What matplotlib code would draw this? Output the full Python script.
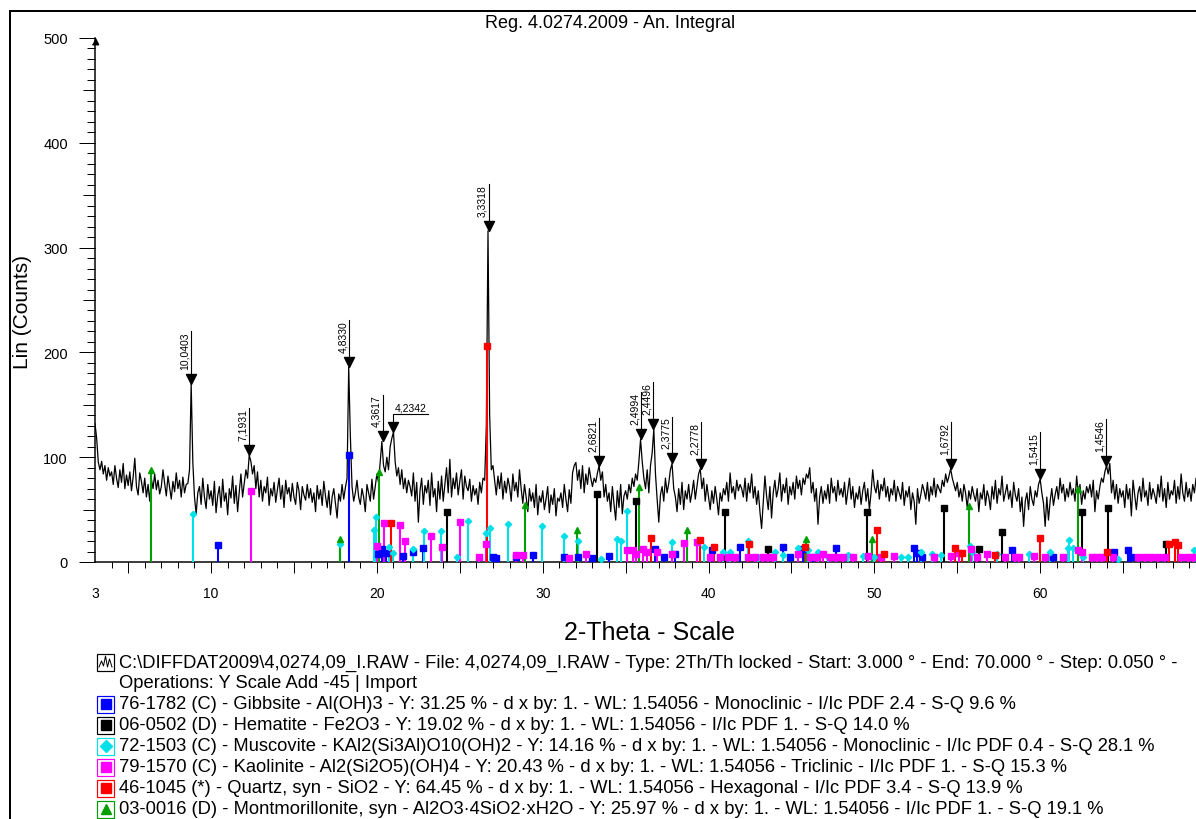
import numpy as np
import matplotlib
matplotlib.use("Agg")
import matplotlib.pyplot as plt
from matplotlib.ticker import MultipleLocator, FixedLocator, NullFormatter
from matplotlib.patches import Rectangle
from matplotlib.lines import Line2D
from matplotlib.transforms import Affine2D

plt.rcParams['font.family'] = ['Liberation Sans', 'DejaVu Sans']

# ---------------------------------------------------------------- data
scan_start, scan_end = 3.0, 70.0
wavelength = 1.54056

# measured intensity (Lin counts), one row per degree 2-theta, 0.1 deg apart
counts = [
    132, 118, 95, 88, 96, 84, 92, 78, 90, 82,      # 3
    86, 74, 92, 80, 71, 88, 76, 94, 70, 83,        # 4
    73, 86, 68, 81, 99, 72, 64, 85, 77, 66,        # 5
    80, 62, 74, 58, 79, 70, 84, 69, 78, 65,        # 6
    72, 88, 75, 63, 82, 71, 60, 77, 67, 85,        # 7
    70, 78, 62, 81, 66, 74, 75, 88, 170, 95,       # 8
    62, 46, 66, 72, 55, 80, 62, 51, 74, 60,        # 9
    68, 54, 77, 47, 63, 72, 52, 79, 58, 66,        # 10
    45, 70, 61, 82, 56, 73, 48, 67, 84, 62,        # 11
    75, 88, 80, 102, 96, 84, 92, 70, 86, 62,       # 12
    78, 58, 72, 66, 81, 54, 70, 63, 76, 57,        # 13
    69, 80, 60, 73, 52, 78, 65, 71, 58, 75,        # 14
    62, 55, 76, 68, 50, 72, 64, 59, 74, 61,        # 15
    70, 57, 66, 48, 73, 60, 69, 54, 77, 63,        # 16
    52, 68, 45, 62, 70, 56, 42, 65, 58, 74,        # 17
    60, 71, 80, 186, 120, 72, 58, 66, 78, 62,      # 18
    55, 70, 62, 48, 74, 66, 58, 79, 60, 72,        # 19
    84, 76, 96, 115, 92, 86, 100, 88, 110, 118,    # 20
    124, 96, 82, 90, 74, 88, 70, 80, 66, 78,       # 21
    72, 63, 85, 58, 76, 38, 68, 80, 55, 73,        # 22
    66, 78, 54, 85, 62, 70, 48, 77, 60, 82,        # 23
    58, 74, 90, 66, 98, 62, 80, 70, 85, 64,        # 24
    77, 88, 60, 82, 72, 68, 79, 58, 73, 64,        # 25
    70, 55, 76, 66, 80, 78, 130, 316, 140, 88,     # 26
    92, 78, 64, 82, 70, 85, 60, 77, 66, 80,        # 27
    72, 58, 84, 68, 76, 62, 88, 70, 56, 74,        # 28
    62, 48, 70, 58, 66, 52, 74, 45, 63, 57,        # 29
    68, 50, 60, 72, 47, 64, 55, 70, 44, 61,        # 30
    58, 66, 52, 74, 60, 48, 69, 56, 85, 92,        # 31
    95, 78, 88, 70, 92, 66, 84, 74, 90, 80,        # 32
    72, 80, 76, 85, 92, 78, 86, 62, 74, 58,        # 33
    66, 48, 72, 55, 40, 68, 52, 74, 46, 63,        # 34
    68, 60, 74, 66, 80, 72, 84, 78, 96, 117,       # 35
    96, 80, 70, 88, 66, 92, 104, 127, 84, 60,      # 36
    38, 64, 72, 58, 80, 66, 75, 88, 94, 70,        # 37
    62, 48, 70, 55, 76, 50, 68, 60, 74, 57,        # 38
    66, 78, 60, 72, 84, 89, 70, 80, 58, 74,        # 39
    62, 50, 68, 56, 72, 60, 45, 66, 58, 70,        # 40
    64, 76, 58, 85, 66, 72, 60, 78, 68, 74,        # 41
    70, 62, 80, 58, 75, 66, 84, 61, 72, 55,        # 42
    68, 48, 32, 57, 82, 63, 50, 72, 42, 66,        # 43
    78, 62, 70, 85, 58, 74, 66, 80, 55, 72,        # 44
    64, 76, 60, 82, 70, 78, 64, 80, 74, 84,        # 45
    80, 90, 66, 76, 58, 70, 36, 62, 72, 56,        # 46
    68, 60, 74, 56, 80, 66, 72, 58, 78, 64,        # 47
    70, 62, 76, 55, 68, 80, 60, 72, 52, 66,        # 48
    60, 72, 55, 68, 76, 58, 70, 50, 66, 88,        # 49
    72, 66, 78, 60, 74, 68, 80, 62, 72, 58,        # 50
    70, 64, 78, 58, 72, 66, 60, 76, 54, 68,        # 51
    62, 72, 50, 66, 58, 36, 70, 56, 64, 74,        # 52
    68, 60, 76, 58, 72, 64, 80, 62, 74, 70,        # 53
    66, 78, 72, 84, 76, 82, 89, 80, 74, 68,        # 54
    76, 62, 70, 58, 74, 66, 52, 68, 60, 72,        # 55
    64, 58, 70, 48, 66, 60, 74, 54, 68, 62,        # 56
    50, 72, 60, 78, 56, 70, 64, 82, 58, 66,        # 57
    74, 60, 68, 52, 76, 64, 58, 70, 48, 62,        # 58
    34, 58, 66, 50, 72, 60, 54, 68, 62, 74,        # 59
    79, 66, 56, 34, 62, 40, 58, 70, 54, 64,        # 60
    72, 60, 80, 66, 74, 58, 70, 62, 76, 64,        # 61
    70, 58, 82, 64, 74, 55, 68, 60, 72, 66,        # 62
    74, 62, 78, 48, 68, 60, 72, 80, 76, 86,        # 63
    92, 84, 94, 66, 78, 60, 74, 56, 70, 62,        # 64
    68, 52, 74, 60, 70, 44, 78, 64, 50, 66,        # 65
    72, 58, 80, 62, 68, 54, 76, 60, 70, 64,        # 66
    56, 74, 62, 82, 58, 70, 52, 76, 60, 68,        # 67
    64, 78, 56, 72, 60, 84, 66, 58, 76, 62,        # 68
    70, 58, 74, 66, 80, 62, 76, 72, 82, 78,        # 69
    80,                                            # 70
]

# peak search results (d-spacing, Angstrom)
peak_labels = ["10,0403", "7,1931", "4,8330", "4,3617", "4,2342", "3,3318",
               "2,6821", "2,4994", "2,4496", "2,3775", "2,2778", "1,6792",
               "1,5415", "1,4546"]
horizontal_labels = ["4,2342"]

# reference patterns: stick positions (2-theta) and heights (counts)
gibbsite_pos = [10.43, 18.30, 20.05, 20.30, 20.55, 21.60, 22.20, 22.80, 27.00, 27.20,
                28.40, 29.40, 31.30, 32.10, 33.00, 34.00, 36.80, 37.30, 38.00, 40.20,
                41.90, 44.50, 44.90, 45.70, 46.30, 47.70, 52.40, 52.60, 52.90, 58.30,
                60.80, 64.45, 65.30, 65.50]
gibbsite_h = [16, 102, 8, 12, 9, 6, 10, 13, 5, 4,
              5, 7, 5, 5, 4, 6, 12, 5, 8, 11,
              14, 14, 5, 12, 5, 13, 13, 9, 5, 11,
              5, 10, 11, 5]

hematite_pos = [24.20, 33.25, 35.65, 41.00, 43.60, 49.55, 54.20, 56.30, 57.70, 62.50, 64.10, 67.60]
hematite_h = [48, 65, 58, 48, 12, 48, 52, 12, 29, 48, 52, 17]

muscovite_pos = [8.90, 17.80, 19.85, 19.95, 20.75, 20.95, 22.15, 22.85, 23.85, 24.85,
                 25.50, 26.55, 26.85, 27.90, 29.95, 31.30, 32.10, 33.50, 34.50, 34.75,
                 35.10, 37.80, 39.70, 40.90, 41.30, 42.40, 43.00, 44.00, 44.50, 45.40,
                 46.00, 46.60, 47.20, 48.40, 49.30, 50.00, 51.60, 52.00, 52.80, 53.50,
                 54.00, 55.75, 55.90, 57.40, 59.30, 60.60, 61.70, 61.75, 62.00, 62.60,
                 64.70, 69.30]
muscovite_h = [46, 17, 31, 43, 14, 9, 12, 30, 30, 5,
               39, 28, 32, 36, 34, 25, 20, 3, 22, 20,
               49, 19, 14, 10, 10, 20, 5, 10, 7, 13,
               11, 10, 5, 7, 6, 5, 5, 5, 10, 8,
               7, 15, 10, 8, 8, 10, 13, 21, 13, 5,
               3, 11]

kaolinite_pos = [12.40, 19.98, 20.45, 21.40, 21.70, 23.25, 23.90, 25.00, 26.15, 26.55,
                 28.40, 28.80, 31.60, 32.60, 35.10, 35.45, 35.60, 36.05, 36.30, 36.90,
                 37.80, 38.50, 39.30, 40.10, 40.70, 41.20, 41.60, 42.40, 42.80, 43.30,
                 43.60, 43.90, 45.40, 46.10, 46.55, 46.90, 47.30, 47.70, 48.10, 48.70,
                 49.60, 50.40, 51.20, 53.60, 54.60, 55.10, 55.80, 56.20, 56.80, 57.90,
                 58.50, 58.70, 59.60, 60.30, 61.40, 62.30, 62.50, 63.10, 63.40, 63.70,
                 64.40, 65.90, 66.30, 66.70, 67.10, 67.50, 68.50, 68.90, 69.20, 69.50]
kaolinite_h = [68, 15, 37, 35, 20, 25, 14, 38, 5, 17,
               7, 7, 4, 8, 11, 11, 8, 12, 10, 10,
               8, 18, 19, 5, 5, 5, 5, 5, 5, 5,
               5, 5, 8, 5, 5, 8, 5, 5, 5, 5,
               6, 5, 6, 5, 6, 9, 12, 5, 8, 5,
               5, 5, 6, 5, 5, 11, 10, 5, 5, 5,
               5, 5, 5, 5, 5, 5, 5, 5, 5, 5]

quartz_pos = [20.86, 26.64, 36.54, 39.47, 40.30, 42.45, 45.80, 50.14, 50.60, 54.87,
              55.30, 57.25, 59.96, 64.04, 67.74, 68.14, 68.32]
quartz_h = [37, 206, 23, 21, 14, 17, 14, 31, 8, 13,
            9, 7, 23, 10, 17, 19, 16]

montmorillonite_pos = [6.40, 17.80, 20.15, 28.95, 32.05, 35.80, 38.70, 45.85, 49.85, 55.70, 62.30]
montmorillonite_h = [88, 22, 86, 54, 31, 72, 31, 22, 22, 53, 70]

x_tick_labels = [3, 10, 20, 30, 40, 50, 60]

phases = [
    ("#0000ff", "s", 4.2, gibbsite_pos, gibbsite_h),
    ("#000000", "s", 4.2, hematite_pos, hematite_h),
    ("#00e0e8", "D", 3.2, muscovite_pos, muscovite_h),
    ("#ff00ff", "s", 4.2, kaolinite_pos, kaolinite_h),
    ("#ff0000", "s", 4.2, quartz_pos, quartz_h),
    ("#00a000", "^", 4.6, montmorillonite_pos, montmorillonite_h),
]

legend_lines = [
    "C:\\DIFFDAT2009\\4,0274,09_I.RAW - File: 4,0274,09_I.RAW - Type: 2Th/Th locked - Start: 3.000 \u00b0 - End: 70.000 \u00b0 - Step: 0.050 \u00b0 -",
    "Operations: Y Scale Add -45 | Import",
    "76-1782 (C) - Gibbsite - Al(OH)3 - Y: 31.25 % - d x by: 1. - WL: 1.54056 - Monoclinic - I/Ic PDF 2.4 - S-Q 9.6 %",
    "06-0502 (D) - Hematite - Fe2O3 - Y: 19.02 % - d x by: 1. - WL: 1.54056 - I/Ic PDF 1. - S-Q 14.0 %",
    "72-1503 (C) - Muscovite - KAl2(Si3Al)O10(OH)2 - Y: 14.16 % - d x by: 1. - WL: 1.54056 - Monoclinic - I/Ic PDF 0.4 - S-Q 28.1 %",
    "79-1570 (C) - Kaolinite - Al2(Si2O5)(OH)4 - Y: 20.43 % - d x by: 1. - WL: 1.54056 - Triclinic - I/Ic PDF 1. - S-Q 15.3 %",
    "46-1045 (*) - Quartz, syn - SiO2 - Y: 64.45 % - d x by: 1. - WL: 1.54056 - Hexagonal - I/Ic PDF 3.4 - S-Q 13.9 %",
    "03-0016 (D) - Montmorillonite, syn - Al2O3\u00b74SiO2\u00b7xH2O - Y: 25.97 % - d x by: 1. - WL: 1.54056 - I/Ic PDF 1. - S-Q 19.1 %",
]

# ---------------------------------------------------------------- figure
W, H = 1196, 820
PT = 0.72  # points per pixel at 100 dpi
fig = plt.figure(figsize=(W / 100, H / 100), dpi=100)
pix = Affine2D().scale(1.0 / W, -1.0 / H).translate(0, 1) + fig.transFigure

x0_px, x1_px = 95, 1206
y0_px, y1_px = 563, 39
ax = fig.add_axes([x0_px / W, 1 - y0_px / H, (x1_px - x0_px) / W, (y0_px - y1_px) / H])
ax.set_xlim(scan_start, scan_end)
ax.set_ylim(0, 500)
for s in ("top", "right"):
    ax.spines[s].set_visible(False)
for s in ("left", "bottom"):
    ax.spines[s].set_linewidth(1.5 * PT)

# x ticks: labels at the decades, short ticks each degree, longer every 5 degrees
ax.xaxis.set_major_locator(FixedLocator(x_tick_labels))
ax.xaxis.set_minor_locator(MultipleLocator(1))
ax.tick_params(axis="x", which="major", length=0, pad=17, labelsize=10)
ax.tick_params(axis="x", which="minor", length=6 * PT, width=1 * PT)
sx = ax.secondary_xaxis("bottom")
sx.xaxis.set_major_locator(MultipleLocator(5))
sx.xaxis.set_major_formatter(NullFormatter())
sx.tick_params(axis="x", which="major", length=11 * PT, width=1 * PT)
sx.spines["bottom"].set_visible(False)

# y ticks
ax.yaxis.set_major_locator(MultipleLocator(100))
ax.yaxis.set_minor_locator(MultipleLocator(10))
ax.tick_params(axis="y", which="major", length=16 * PT, width=1 * PT, pad=11 * PT, labelsize=10.5)
ax.tick_params(axis="y", which="minor", length=8 * PT, width=1 * PT)
sy = ax.secondary_yaxis("left")
sy.yaxis.set_major_locator(MultipleLocator(50))
sy.yaxis.set_major_formatter(NullFormatter())
sy.tick_params(axis="y", which="major", length=12 * PT, width=1 * PT)
sy.spines["left"].set_visible(False)

ax.plot([scan_start], [500], marker=[(0, 0), (1, -2), (-1, -2)], ms=9, color="black",
        clip_on=False, zorder=5)

# measured pattern
two_theta = np.linspace(scan_start, scan_end, len(counts))
intensity = np.array(counts, dtype=float)
ax.plot(two_theta, intensity, color="black", lw=0.9, zorder=2)

# reference sticks
for color, marker, ms, pos, h in phases:
    ax.vlines(pos, 0, h, colors=color, lw=1.5, zorder=3)
    ax.plot(pos, h, ls="none", marker=marker, ms=ms, color=color, zorder=4, clip_on=False)

# peak markers with d-spacing labels
renderer = fig.canvas.get_renderer()
tri = [(0, 0), (-1, 2), (1, 2), (0, 0)]
to_data = ax.transData.inverted()
for lab in peak_labels:
    d = float(lab.replace(",", "."))
    tth = 2 * np.degrees(np.arcsin(wavelength / (2 * d)))
    near = np.abs(two_theta - tth) <= 0.15
    top = intensity[near].max()
    ax.plot([tth], [top], marker=tri, ms=20 * PT, color="black", zorder=6, clip_on=False)
    xd, yd = ax.transData.transform((tth, top))
    if lab in horizontal_labels:
        t = ax.annotate(lab, xy=(tth, top), xytext=(2, 20), textcoords="offset pixels",
                        ha="left", va="bottom", fontsize=7.5, zorder=6)
        bb = t.get_window_extent(renderer)
        _, yb = to_data.transform((xd, yd + 10))
        _, yh = to_data.transform((xd, yd + 18))
        xr, _ = to_data.transform((bb.x1 + 1, yd))
        ax.plot([tth, tth, xr], [yb, yh, yh], color="black", lw=0.8, zorder=6, clip_on=False)
    else:
        t = ax.annotate(lab, xy=(tth, top), xytext=(-1, 15), textcoords="offset pixels",
                        rotation=90, ha="right", va="bottom", fontsize=7.5, zorder=6)
        bb = t.get_window_extent(renderer)
        _, yb = to_data.transform((xd, yd + 10))
        _, yt = to_data.transform((xd, bb.y1))
        ax.plot([tth, tth], [yb, yt], color="black", lw=0.8, zorder=6, clip_on=False)

# titles
fig.text(610 / W, 1 - 24 / H, "Reg. 4.0274.2009 - An. Integral", ha="center", va="center", fontsize=13)
fig.text(22 / W, 1 - 312 / H, "Lin (Counts)", rotation=90, ha="center", va="center", fontsize=15)
fig.text(649 / W, 1 - 633 / H, "2-Theta - Scale", ha="center", va="center", fontsize=18)

# outer frame
fig.add_artist(Line2D([10, 10], [H + 5, 12], color="black", lw=2 * PT, transform=pix))
fig.add_artist(Line2D([10, W + 5], [12, 12], color="black", lw=2 * PT, transform=pix))

# legend block
text_x = 119
line_y = [663 + 21 * i for i in range(len(legend_lines))]
texts = [fig.text(text_x / W, 1 - yc / H, s, ha="left", va="center", fontsize=10)
         for s, yc in zip(legend_lines, line_y)]
w_first = texts[0].get_window_extent(renderer).width
fs = 10 * (1178 - text_x) / w_first
for t in texts:
    t.set_fontsize(fs)

# legend icons
box = 17
yc0 = line_y[0]
fig.add_artist(Rectangle((97, yc0 - box / 2), box, box, fill=False, edgecolor="black",
                         lw=1.2 * PT, transform=pix))
fig.add_artist(Line2D([99, 101.5, 103.5, 105.5, 107.5, 109.5, 112],
                      [yc0 + 5, yc0 - 1, yc0 + 4, yc0 - 6, yc0 + 5, yc0 - 3, yc0 + 5],
                      color="black", lw=1 * PT, transform=pix))
for (color, marker, ms, _, _), yc in zip(phases, line_y[2:]):
    fig.add_artist(Rectangle((97, yc - box / 2), box, box, fill=False, edgecolor=color,
                             lw=1.2 * PT, transform=pix))
    fig.add_artist(Line2D([97 + box / 2], [yc], ls="none", marker=marker,
                          ms=ms * 1.7 if marker != "D" else ms * 1.8,
                          color=color, transform=pix))

fig.savefig("out.png", dpi=100)
